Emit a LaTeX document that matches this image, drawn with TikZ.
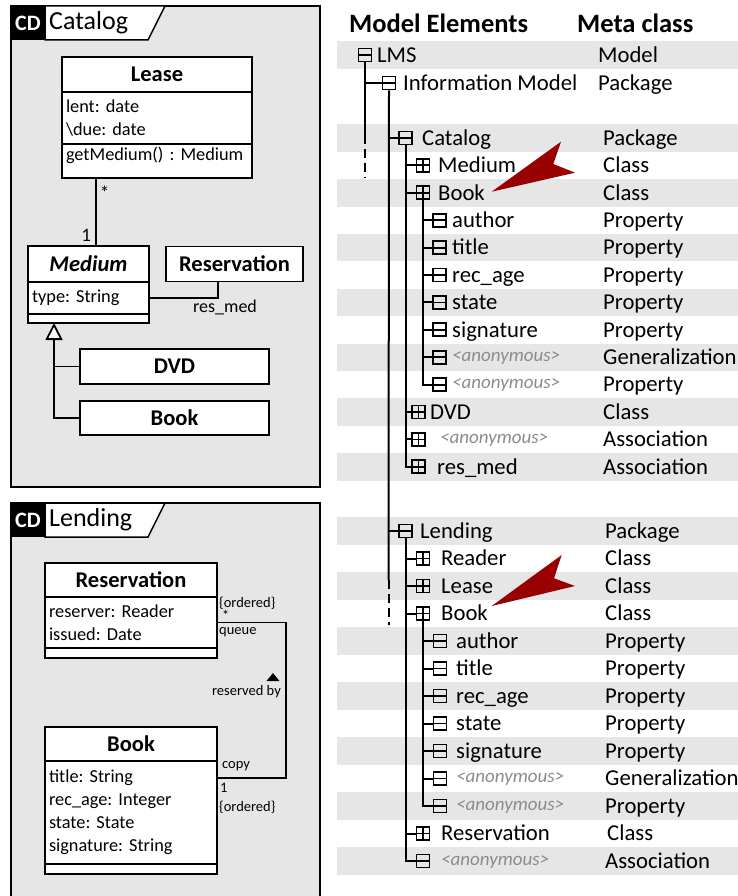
\documentclass[tikz,border=0pt]{standalone}
\usepackage{fontspec}
\setmainfont{Carlito}
\usetikzlibrary{positioning,arrows.meta}
\definecolor{rowgray}{RGB}{230,230,230}
\definecolor{arrowred}{RGB}{153,0,0}
\newcommand{\anon}{\raisebox{3pt}{\textcolor{black!45}{\fontsize{19}{21}\selectfont\itshape <anonymous>}}}
\frenchspacing

\begin{document}
\begin{tikzpicture}
  [
  x=1pt, y=-1pt,
  frame/.style={draw,line width=1.8pt,fill=rowgray},
  tab/.style={draw,line width=1.5pt,fill=white},
  cls/.style={rectangle,draw,line width=1.8pt,fill=white,inner sep=0pt,outer sep=0pt},
  clsname/.style={cls,font=\bfseries\fontsize{22.5}{26}\selectfont},
  clsbody/.style={cls,align=left,inner xsep=4pt,inner ysep=3pt,font=\fontsize{18.3}{23}\selectfont},
  assoc/.style={line width=1.8pt},
  lbl/.style={font=\fontsize{14.5}{16}\selectfont,inner sep=0pt,anchor=west},
  cdbox/.style={font=\bfseries\fontsize{22}{26}\selectfont,text=white,inner sep=0pt},
  ftitle/.style={font=\fontsize{26}{30}\selectfont,inner sep=0pt,anchor=west},
  hdr/.style={font=\bfseries\fontsize{26.5}{30}\selectfont,inner sep=0pt,anchor=west},
  txt/.style={font=\fontsize{22.7}{26}\selectfont,inner sep=0pt,anchor=west,text height=17.5pt,text depth=3pt},
  icon/.style={draw,line width=1.8pt,minimum size=13pt,inner sep=0pt,
    path picture={
      \draw [line width=1.8pt] (path picture bounding box.west) -- (path picture bounding box.east);
      \ifnum#1=1 \draw [line width=1.8pt] (path picture bounding box.north) -- (path picture bounding box.south); \fi
    }},
  tree/.style={line width=2pt},
  treecut/.style={tree,dash pattern=on 9pt off 5pt}
  ]

  \useasboundingbox (0,0) rectangle (738,896);

  % Catalog diagram
  \draw [frame] (11,6) rectangle (320,487);
  \fill (11,6) rectangle (45,40);
  \draw [tab] (45,6) -- (165,6) -- (148,40) -- (45,40) -- cycle;
  \node (cd1) [cdbox] at (28,23) {CD};
  \node (fcat) [ftitle] at (49,23) {Catalog};

  \node (lease) [clsname,minimum width=190pt,minimum height=35pt] at (157,74.5) {Lease};
  \node (leaseatt) [clsbody,text width=182pt,minimum height=52pt,below=0pt of lease] {
    lent: date\\\textbackslash due: date
  };
  \node (leaseop) [clsbody,text width=182pt,text height=14pt,text depth=14pt,below=0pt of leaseatt] {
    getMedium() : Medium
  };
  \node (medium) [clsname,minimum width=121pt,minimum height=36pt,
    font=\bfseries\itshape\fontsize{22.5}{26}\selectfont] at (88.5,264) {Medium};
  \node (mediumatt) [clsbody,text width=113pt,minimum height=32pt,below=0pt of medium] {type: String};
  \node (mediumop) [clsbody,text width=113pt,minimum height=9pt,below=0pt of mediumatt] {};
  \node (resv) [clsname,minimum width=137pt,minimum height=35pt,right=17pt of medium] {Reservation};
  \node (dvd) [clsname,minimum width=189pt,minimum height=35pt] at (174.5,366.5) {DVD};
  \node (book) [clsname,minimum width=189pt,minimum height=34pt,below=17pt of dvd] {Book};
  \coordinate (gtip) at ([xshift=26pt]mediumop.south west);

  \draw [assoc] ([xshift=34pt]leaseop.south west) --
    node (lmany) [pos=.18,right,inner sep=3pt,yshift=-3pt,font=\fontsize{19}{23}\selectfont] {*}
    node (lone) [pos=.85,left,inner sep=4pt,font=\fontsize{19}{23}\selectfont] {1}
    ([xshift=68pt]medium.north west);
  \draw [assoc] (mediumatt.east) -|
    node (rmlbl) [pos=.5,below,xshift=7pt,inner sep=1pt,font=\fontsize{18}{22}\selectfont] {res\_med}
    ([xshift=52pt]resv.south west);
  \draw [assoc] (dvd.west) -- (dvd.west -| gtip);
  \draw [assoc,-{Triangle[length=17pt,width=17pt,fill=white]}] (book.west) -| (gtip);

  % Lending diagram
  \draw [frame] (11,503) rectangle (320,910);
  \fill (11,503) rectangle (45,537);
  \draw [tab] (45,503) -- (165,503) -- (148,537) -- (45,537) -- cycle;
  \node (cd2) [cdbox] at (28,520) {CD};
  \node (flend) [ftitle] at (49,520) {Lending};

  \node (bresv) [clsname,minimum width=172pt,minimum height=34pt] at (131,580) {Reservation};
  \node (bresvatt) [clsbody,text width=164pt,minimum height=51pt,below=0pt of bresv] {
    reserver: Reader\\issued: Date
  };
  \node (bresvop) [clsbody,text width=164pt,minimum height=10pt,below=0pt of bresvatt] {};
  \node (bbook) [clsname,minimum width=172pt,minimum height=34pt,below=69pt of bresvop] {Book};
  \node (bbookatt) [clsbody,text width=164pt,minimum height=103pt,below=0pt of bbook] {
    title: String\\rec\_age: Integer\\state: State\\signature: String
  };
  \node (bbookop) [clsbody,text width=164pt,minimum height=10pt,below=0pt of bbookatt] {};

  \draw [assoc] (bresvatt.east) -- ++(69pt,0) |- ([yshift=-17pt]bbookatt.north east);
  \node (qord) [lbl] at (219,603) {\{ordered\}};
  \node (qmany) [lbl] at (222,615) {*};
  \node (qname) [lbl] at (219,632) {queue};
  \fill (266.5,681) -- (279.5,681) -- (273,673) -- cycle;
  \node (rby) [lbl,anchor=east] at (281,692) {reserved by};
  \node (cname) [lbl] at (222,766) {copy};
  \node (cone) [lbl] at (220,788) {1};
  \node (cord) [lbl] at (219,807) {\{ordered\}};

  % model tree
  \foreach \yy in {55,138,192.8,247.6,302.4,357.2,412,466.8,531,586,641,696,751,806,861}
    \fill [rowgray] (337,\yy-13.7) rectangle (738,\yy+13.7);
  \node (hme) [hdr] at (349,23) {Model Elements};
  \node (hmc) [hdr] at (577,23) {Meta class};

  \foreach \nm/\yy/\ix/\pl/\tx/\lab/\mx/\mc in {
    lms/55/365/0/377/LMS/598/Model,
    info/83/389/0/403/Information Model/598/Package,
    cat/138/405.5/0/422/Catalog/603/Package,
    cmed/165.4/423/1/438/Medium/603/Class,
    cbook/192.8/423/1/438/Book/603/Class,
    ca1/220.2/439.5/0/452/author/603/Property,
    ca2/247.6/439.5/0/452/title/603/Property,
    ca3/275/439.5/0/452/rec\_age/603/Property,
    ca4/302.4/439.5/0/452/state/603/Property,
    ca5/329.8/439.5/0/452/signature/603/Property,
    ca6/357.2/439.5/0/452/\anon/603/Generalization,
    ca7/384.6/439.5/0/452/\anon/603/Property,
    cdvd/412/418.5/1/430/DVD/603/Class,
    cas/439.4/418.5/1/440/\anon/603/Association,
    cres/466.8/418.5/1/437/res\_med/603/Association,
    lend/531/405.5/0/420/Lending/605/Package,
    lrdr/558.5/423/1/441/Reader/605/Class,
    llse/586/423/1/441/Lease/605/Class,
    lbook/613.5/423/1/441/Book/605/Class,
    la1/641/440/0/456/author/605/Property,
    la2/668.5/440/0/456/title/605/Property,
    la3/696/440/0/456/rec\_age/605/Property,
    la4/723.5/440/0/456/state/605/Property,
    la5/751/440/0/456/signature/605/Property,
    la6/778.5/440/0/456/\anon/605/Generalization,
    la7/806/440/0/456/\anon/605/Property,
    lres/833.5/423/1/441/Reservation/607/Class,
    las/861/423/0/441/\anon/605/Association}
  {
    \node (i\nm) [icon=\pl] at (\ix,\yy) {};
    \node (t\nm) [txt] at (\tx,\yy) {\lab};
    \node (m\nm) [txt] at (\mx,\yy) {\mc};
  }

  \coordinate (lmsend) at (365,135);
  \coordinate (lmscut) at (365,178);
  \coordinate (infoend) at (388.5,580);
  \coordinate (infocut) at (388.5,625);
  \draw [tree] (ilms.south) -- (lmsend);
  \draw [treecut] (lmsend) -- (lmscut);
  \draw [tree] (ilms.south |- iinfo) -- (iinfo.west);
  \draw [tree] (iinfo.south) -- (infoend);
  \draw [treecut] (infoend) -- (infocut);
  \foreach \c in {cat,lend}
    \draw [tree] (iinfo.south |- i\c) -- (i\c.west);
  \draw [tree] (icat.south) |- (icres.west);
  \foreach \c in {cmed,cbook,cdvd,cas}
    \draw [tree] (icat.south |- i\c) -- (i\c.west);
  \draw [tree] (icbook.south) |- (ica7.west);
  \foreach \k in {1,...,6}
    \draw [tree] (icbook.south |- ica\k) -- (ica\k.west);
  \draw [tree] (ilend.south) |- (ilas.west);
  \foreach \c in {lrdr,llse,lbook,lres}
    \draw [tree] (ilend.south |- i\c) -- (i\c.west);
  \draw [tree] (ilbook.south) |- (ila7.west);
  \foreach \k in {1,...,6}
    \draw [tree] (ilbook.south |- ila\k) -- (ila\k.west);

  \fill [arrowred] (491.7,191.7) -- (561,141.7) -- (553.3,164) -- (575,172.7) -- cycle;
  \fill [arrowred] (491.7,606) -- (561.7,555) -- (554,578.3) -- (575,586) -- cycle;
\end{tikzpicture}
\end{document}
